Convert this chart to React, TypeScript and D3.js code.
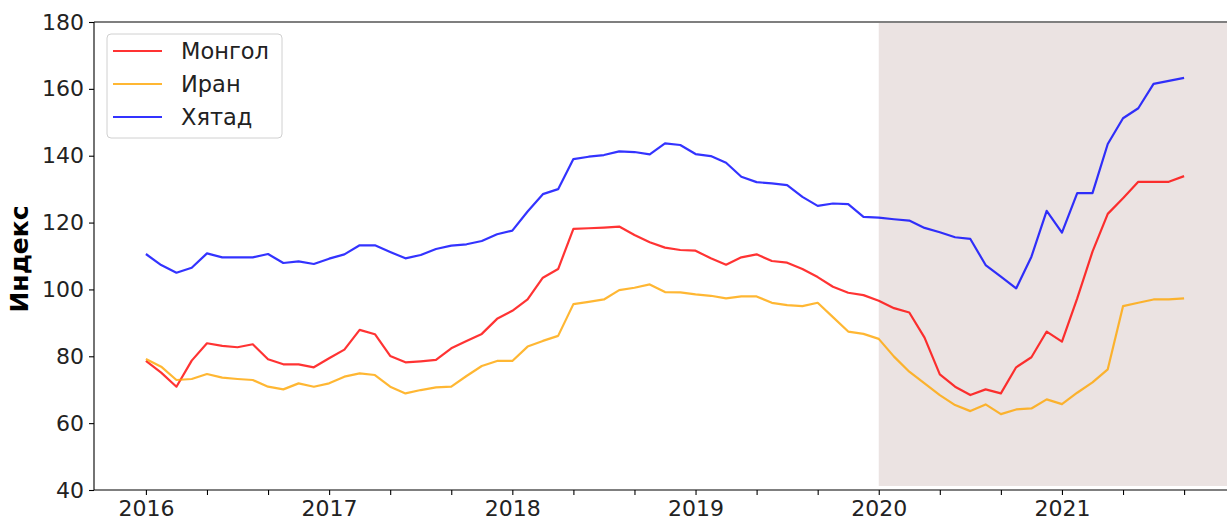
import React, { useEffect, useRef } from "react";
import * as d3 from "d3";

// monthly index values, Jan 2016 .. Sep 2021
const mongol = [
  78.6, 75.1, 70.9, 78.7, 83.9, 83.1, 82.7, 83.6, 79.1, 77.6, 77.6, 76.7,
  79.4, 82.0, 87.9, 86.6, 80.1, 78.2, 78.5, 78.9, 82.4, 84.6, 86.7, 91.2,
  93.6, 97.0, 103.5, 106.1, 118.1, 118.3, 118.5, 118.8, 116.3, 114.1, 112.5, 111.8,
  111.6, 109.3, 107.4, 109.6, 110.5, 108.5, 108.0, 106.1, 103.7, 100.8, 99.0, 98.3,
  96.6, 94.4, 93.1, 85.6, 74.6, 70.9, 68.4, 70.1, 68.9, 76.7, 79.7, 87.4,
  84.4, 97.3, 111.3, 122.6, 127.3, 132.2, 132.2, 132.2, 133.9,
];
const iran = [
  79.2, 76.9, 72.9, 73.2, 74.7, 73.6, 73.2, 72.9, 70.9, 70.1, 71.9, 70.9,
  71.9, 73.9, 74.9, 74.4, 70.9, 68.9, 69.9, 70.7, 70.9, 74.1, 77.1, 78.6,
  78.6, 82.9, 84.6, 86.1, 95.6, 96.3, 97.0, 99.8, 100.5, 101.5, 99.2, 99.1,
  98.5, 98.1, 97.3, 97.9, 97.9, 96.0, 95.3, 95.0, 96.0, 91.7, 87.4, 86.7,
  85.2, 79.9, 75.4, 71.9, 68.4, 65.4, 63.6, 65.6, 62.7, 64.1, 64.4, 67.1,
  65.7, 69.1, 72.2, 76.1, 95.0, 96.0, 97.0, 97.0, 97.3,
];
const china = [
  110.6, 107.3, 105.0, 106.5, 110.8, 109.6, 109.6, 109.6, 110.6, 107.9, 108.4, 107.6,
  109.2, 110.5, 113.2, 113.2, 111.2, 109.3, 110.3, 112.1, 113.1, 113.5, 114.5, 116.5,
  117.6, 123.3, 128.5, 130.0, 139.0, 139.7, 140.2, 141.3, 141.1, 140.4, 143.7, 143.2,
  140.5, 139.9, 137.9, 133.7, 132.1, 131.7, 131.2, 127.7, 125.0, 125.7, 125.5, 121.7,
  121.5, 121.0, 120.6, 118.4, 117.1, 115.6, 115.1, 107.3, 103.8, 100.3, 109.8, 123.5,
  117.0, 128.8, 128.8, 143.5, 151.2, 154.2, 161.5, 162.4, 163.3,
];

const startYear = 2016;
const yTicks = [40, 60, 80, 100, 120, 140, 160, 180];
const seriesNames = ["Монгол", "Иран", "Хятад"];
const seriesColors = ["#ff0000", "#ffa500", "#0000ff"];
const shadeStart = 48; // Jan 2020

function MakeSvg(ref: React.MutableRefObject<SVGSVGElement | null>) {
  const margin = { top: 22, left: 94 };
  const width = 1142;
  const height = 468;
  const font = "DejaVu Sans, sans-serif";

  const root = d3.select(ref.current);
  root.selectAll("*").remove();
  const svg = root.append("g").attr("transform", `translate(${margin.left},${margin.top})`);

  const n = mongol.length;
  const pad = (n - 1) * 0.05;
  const x = d3.scaleLinear().domain([-pad, n - 1 + pad]).range([0, width]);
  const y = d3.scaleLinear().domain([40, 180]).range([height, 0]);

  // shaded period
  svg
    .append("rect")
    .attr("x", x(shadeStart))
    .attr("y", y(179.7))
    .attr("width", x(n - 1 + pad) - x(shadeStart))
    .attr("height", y(41.2) - y(179.7))
    .style("fill", "#ebe3e2");

  const line = d3
    .line<number>()
    .x((_, i) => x(i))
    .y((d) => y(d));

  [mongol, iran, china].forEach((s, k) => {
    svg
      .append("path")
      .datum(s)
      .attr("d", line)
      .style("fill", "none")
      .style("stroke", seriesColors[k])
      .style("stroke-opacity", 0.8)
      .style("stroke-width", 2.2)
      .style("stroke-linejoin", "round");
  });

  // axes
  const monthTicks = d3.range(0, n, 4);
  const xAxis = svg
    .append("g")
    .attr("transform", `translate(0,${height})`)
    .call(
      d3
        .axisBottom(x)
        .tickValues(monthTicks)
        .tickSize(5)
        .tickPadding(5)
        .tickFormat((d) => ((d as number) % 12 === 0 ? String(startYear + (d as number) / 12) : ""))
    );
  const yAxis = svg
    .append("g")
    .call(d3.axisLeft(y).tickValues(yTicks).tickSize(5).tickPadding(5).tickFormat(d3.format("d")));

  [xAxis, yAxis].forEach((a) => {
    a.select(".domain").remove();
    a.selectAll("line").style("stroke", "#000").style("stroke-width", 1.1);
    a.selectAll("text").style("font-family", font).style("font-size", "22px").style("fill", "#222");
  });

  // spines
  svg.append("line").attr("x1", 0).attr("x2", 0).attr("y1", 0).attr("y2", height).style("stroke", "#000").style("stroke-width", 1.1);
  svg.append("line").attr("x1", 0).attr("x2", width).attr("y1", height).attr("y2", height).style("stroke", "#000").style("stroke-width", 1.1);
  svg.append("line").attr("x1", 0).attr("x2", width).attr("y1", 0).attr("y2", 0).style("stroke", "#000").style("stroke-width", 1.1);

  // y label
  svg
    .append("text")
    .attr("transform", `translate(-66,${height / 2 + 3})rotate(-90)`)
    .attr("text-anchor", "middle")
    .style("font-family", font)
    .style("font-size", "25px")
    .style("font-weight", "bold")
    .style("fill", "#000")
    .text("Индекс");

  // legend
  const lg = svg.append("g").attr("transform", "translate(13,12)");
  lg.append("rect")
    .attr("width", 175)
    .attr("height", 104)
    .attr("rx", 4)
    .style("fill", "#fff")
    .style("fill-opacity", 0.8)
    .style("stroke", "#d0d0d0");
  seriesNames.forEach((name, k) => {
    const cy = 17 + k * 33;
    lg.append("line")
      .attr("x1", 6)
      .attr("x2", 55)
      .attr("y1", cy)
      .attr("y2", cy)
      .style("stroke", seriesColors[k])
      .style("stroke-opacity", 0.8)
      .style("stroke-width", 2.2);
    lg.append("text")
      .attr("x", 74)
      .attr("y", cy + 8)
      .style("font-family", font)
      .style("font-size", "22.5px")
      .style("fill", "#222")
      .text(name);
  });
}

const App = () => {
  const ref = useRef<SVGSVGElement | null>(null);
  useEffect(() => {
    MakeSvg(ref);
  }, []);
  return (
    <div style={{ position: "absolute", left: 0, top: 0 }}>
      <svg ref={ref} width={1227} height={519} style={{ display: "block", background: "#fff" }} />
    </div>
  );
};

export default App;
